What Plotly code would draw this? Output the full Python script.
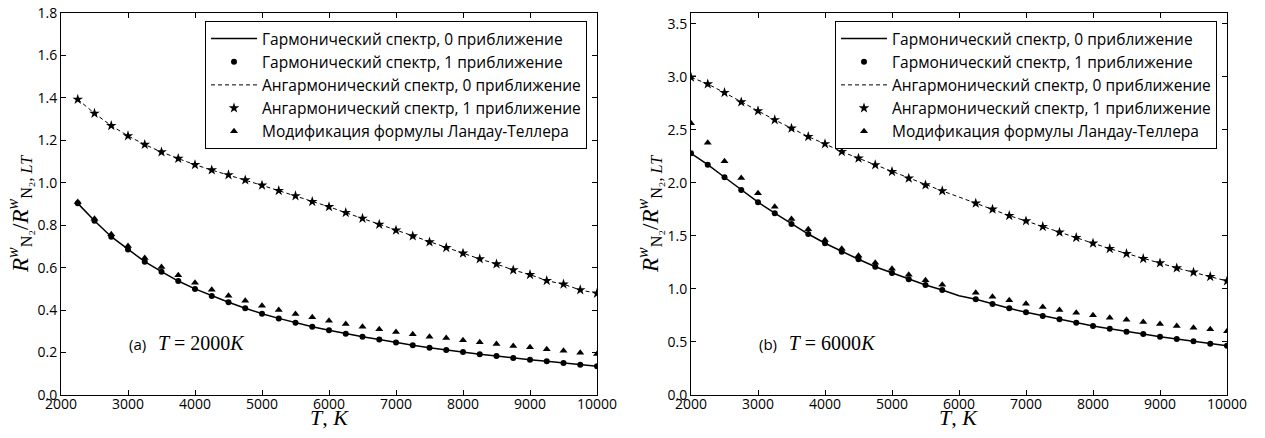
import plotly.graph_objects as go

# ---------------- data ----------------
T_a = [2250, 2500, 2750, 3000, 3250, 3500, 3750, 4000, 4250, 4500, 4750, 5000, 5250, 5500, 5750, 6000,
       6250, 6500, 6750, 7000, 7250, 7500, 7750, 8000, 8250, 8500, 8750, 9000, 9250, 9500, 9750, 10000]
harm0_a = [0.903, 0.821, 0.746, 0.686, 0.628, 0.581, 0.537, 0.500, 0.467, 0.437, 0.409, 0.383, 0.361, 0.341, 0.322, 0.305,
           0.289, 0.275, 0.261, 0.247, 0.234, 0.223, 0.212, 0.203, 0.192, 0.184, 0.174, 0.166, 0.159, 0.151, 0.143, 0.135]
harm1_a = [0.903, 0.821, 0.746, 0.686, 0.628, 0.581, 0.537, 0.500, 0.467, 0.437, 0.409, 0.383, 0.361, 0.341, 0.322, 0.305,
           0.289, 0.275, 0.261, 0.247, 0.234, 0.223, 0.212, 0.203, 0.192, 0.184, 0.174, 0.166, 0.159, 0.151, 0.143, 0.135]
anh0_a = [1.393, 1.327, 1.269, 1.221, 1.180, 1.145, 1.114, 1.085, 1.060, 1.037, 1.013, 0.988, 0.963, 0.938, 0.911, 0.887,
          0.859, 0.832, 0.804, 0.776, 0.749, 0.721, 0.694, 0.668, 0.641, 0.617, 0.589, 0.567, 0.539, 0.522, 0.495, 0.479]
anh1_a = [1.393, 1.327, 1.269, 1.221, 1.180, 1.145, 1.114, 1.085, 1.060, 1.037, 1.013, 0.988, 0.963, 0.938, 0.911, 0.887,
          0.859, 0.832, 0.804, 0.776, 0.749, 0.721, 0.694, 0.668, 0.641, 0.617, 0.589, 0.567, 0.539, 0.522, 0.495, 0.479]
lt_a = [0.910, 0.830, 0.757, 0.702, 0.646, 0.603, 0.564, 0.529, 0.496, 0.468, 0.444, 0.421, 0.401, 0.382, 0.366, 0.350,
        0.335, 0.322, 0.310, 0.297, 0.286, 0.275, 0.269, 0.258, 0.248, 0.240, 0.231, 0.225, 0.215, 0.209, 0.199, 0.193]

T_b = [2000, 2250, 2500, 2750, 3000, 3250, 3500, 3750, 4000, 4250, 4500, 4750, 5000, 5250, 5500, 5750, 6000,
       6250, 6500, 6750, 7000, 7250, 7500, 7750, 8000, 8250, 8500, 8750, 9000, 9250, 9500, 9750, 10000]
harm0_b = [2.278, 2.171, 2.052, 1.932, 1.817, 1.713, 1.612, 1.517, 1.430, 1.351, 1.279, 1.209, 1.150, 1.090, 1.037, 0.990, 0.935,
           0.902, 0.858, 0.817, 0.779, 0.745, 0.713, 0.681, 0.650, 0.625, 0.597, 0.575, 0.549, 0.528, 0.506, 0.484, 0.465]
harm1_b = [2.278, 2.171, 2.052, 1.932, 1.817, 1.713, 1.612, 1.517, 1.430, 1.351, 1.279, 1.209, 1.150, 1.090, 1.037, 0.990, None,
           0.902, 0.858, 0.817, 0.779, 0.745, 0.713, 0.681, 0.650, 0.625, 0.597, 0.575, 0.549, 0.528, 0.506, 0.484, 0.465]
anh0_b = [2.994, 2.931, 2.849, 2.761, 2.677, 2.592, 2.514, 2.435, 2.366, 2.293, 2.231, 2.168, 2.105, 2.042, 1.979, 1.923, 1.866,
          1.807, 1.750, 1.690, 1.640, 1.586, 1.533, 1.483, 1.430, 1.379, 1.332, 1.285, 1.244, 1.197, 1.156, 1.115, 1.074]
anh1_b = [2.994, 2.931, 2.849, 2.761, 2.677, 2.592, 2.514, 2.435, 2.366, 2.293, 2.231, 2.168, 2.105, 2.042, 1.979, 1.923, None,
          1.807, 1.750, 1.690, 1.640, 1.586, 1.533, 1.483, 1.430, 1.379, 1.332, 1.285, 1.244, 1.197, 1.156, 1.115, 1.074]
lt_b = [2.561, 2.378, 2.203, 2.045, 1.901, 1.775, 1.659, 1.562, 1.461, 1.379, 1.313, 1.247, 1.190, 1.134, 1.081, 1.040, None,
        0.964, 0.926, 0.893, 0.861, 0.829, 0.801, 0.776, 0.751, 0.729, 0.710, 0.688, 0.669, 0.650, 0.634, 0.619, 0.600]

names = ["Гармонический спектр, 0 приближение",
         "Гармонический спектр, 1 приближение",
         "Ангармонический спектр, 0 приближение",
         "Ангармонический спектр, 1 приближение",
         "Модификация формулы Ландау-Теллера"]

x_ticks = [2000, 3000, 4000, 5000, 6000, 7000, 8000, 9000, 10000]
x_ticktext = ["2000", "3000", "4000", "5000", "6000", "7000", "8000", "9000", "10000"]
y_ticks_a = [0.0, 0.2, 0.4, 0.6, 0.8, 1.0, 1.2, 1.4, 1.6, 1.8]
y_ticks_b = [0.0, 0.5, 1.0, 1.5, 2.0, 2.5, 3.0, 3.5]

# ---------------- figure ----------------
W, H = 1265, 438
fig = go.Figure()

def add_panel(T, h0, h1, a0, a1, lt, xa, ya, leg):
    fig.add_trace(go.Scatter(x=T, y=h0, mode="lines", name=names[0], legend=leg,
                             line=dict(color="black", width=1.5), xaxis=xa, yaxis=ya))
    fig.add_trace(go.Scatter(x=T, y=h1, mode="markers", name=names[1], legend=leg,
                             marker=dict(symbol="circle", size=6, color="black"), xaxis=xa, yaxis=ya))
    fig.add_trace(go.Scatter(x=T, y=a0, mode="lines", name=names[2], legend=leg,
                             line=dict(color="black", width=1, dash="4px,3px"), xaxis=xa, yaxis=ya))
    fig.add_trace(go.Scatter(x=T, y=a1, mode="markers", name=names[3], legend=leg,
                             marker=dict(symbol="star", size=8, color="black"), xaxis=xa, yaxis=ya))
    fig.add_trace(go.Scatter(x=T, y=lt, mode="markers", name=names[4], legend=leg,
                             marker=dict(symbol="triangle-up", size=7, color="black"), xaxis=xa, yaxis=ya))

add_panel(T_a, harm0_a, harm1_a, anh0_a, anh1_a, lt_a, "x", "y", "legend")
add_panel(T_b, harm0_b, harm1_b, anh0_b, anh1_b, lt_b, "x2", "y2", "legend2")

ydom = [1 - 395 / H, 1 - 13 / H]
xdom_a = [61 / W, 597 / W]
xdom_b = [691 / W, 1227 / W]

tickfont = dict(family="Open Sans", size=14, color="black")
axis_common = dict(showline=True, linecolor="black", linewidth=1, mirror="ticks",
                   ticks="inside", ticklen=5, tickcolor="black", tickwidth=1,
                   showgrid=False, zeroline=False, tickfont=tickfont, automargin=False)
xaxis_common = dict(axis_common, ticklabelstandoff=-4)

legend_common = dict(y=1 - 21 / H, xanchor="right", yanchor="top",
                     bgcolor="white", bordercolor="black", borderwidth=1,
                     font=dict(family="Open Sans", size=15.5, color="black"), itemwidth=46)

fig.update_layout(
    width=W, height=H,
    margin=dict(l=0, r=0, t=0, b=0),
    paper_bgcolor="white", plot_bgcolor="white",
    showlegend=True,
    xaxis=dict(domain=xdom_a, range=[2000, 10000], tickvals=x_ticks, ticktext=x_ticktext, anchor="y", **xaxis_common),
    yaxis=dict(domain=ydom, range=[0, 1.8], tickvals=y_ticks_a, tickformat=".1f", anchor="x", **axis_common),
    xaxis2=dict(domain=xdom_b, range=[2000, 10000], tickvals=x_ticks, ticktext=x_ticktext, anchor="y2", **xaxis_common),
    yaxis2=dict(domain=ydom, range=[0, 3.6], tickvals=y_ticks_b, tickformat=".1f", anchor="x2", **axis_common),
    legend=dict(x=587 / W, **legend_common),
    legend2=dict(x=1217 / W, **legend_common),
)

serif = "Liberation Serif"
ylabel = ("<i>R</i><sup><i>w</i></sup><sub>N₂</sub>/<i>R</i><sup><i>w</i></sup>"
          "<sub>N₂, <i>LT</i></sub>")
for xp in (19, 649):
    fig.add_annotation(x=xp / W, y=1 - 214 / H, xref="paper", yref="paper", text=ylabel,
                       textangle=-90, showarrow=False, xanchor="center", yanchor="middle",
                       font=dict(family=serif, size=23, color="black"))
for xc in (329, 959):
    fig.add_annotation(x=xc / W, y=1 - 417 / H, xref="paper", yref="paper", text="<i>T</i>, <i>K</i>",
                       showarrow=False, xanchor="center", yanchor="middle",
                       font=dict(family=serif, size=22, color="black"))

for xl, lab, temp in ((127, "(a)", "2000"), (757, "(b)", "6000")):
    txt = (f"{lab}   <span style=\"font-family:'{serif}';font-size:20px\"><i>T</i> = {temp}<i>K</i></span>")
    fig.add_annotation(x=xl / W, y=1 - 343 / H, xref="paper", yref="paper", text=txt,
                       showarrow=False, xanchor="left", yanchor="middle",
                       font=dict(family="Open Sans", size=15, color="black"))

fig.write_html("out.html")
